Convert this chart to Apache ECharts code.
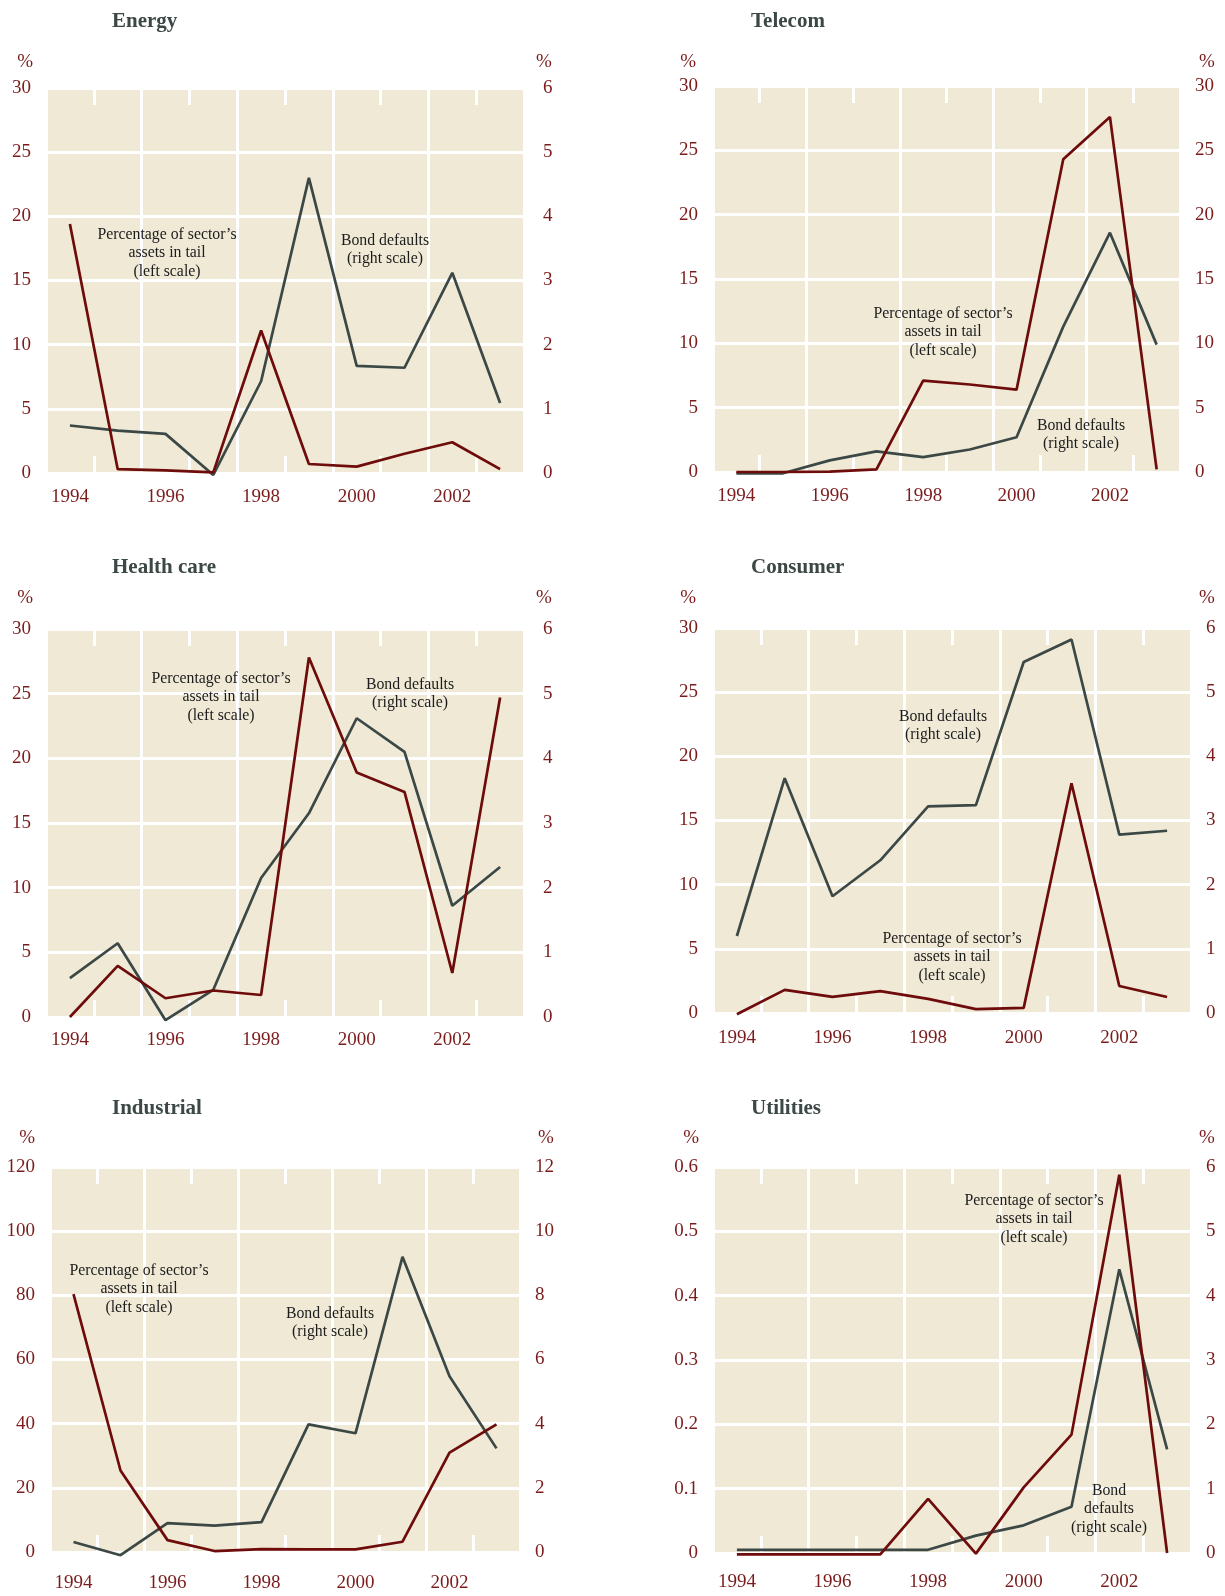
<!DOCTYPE html>
<html>
<head>
<meta charset="utf-8">
<script src="https://cdn.jsdelivr.net/npm/echarts@6/dist/echarts.min.js"></script>
<style>
  html, body { margin: 0; padding: 0; background: #fff; }
  #main { width: 1225px; height: 1596px; }
</style>
</head>
<body>
<div id="main"></div>
<script>
// years on every x axis
var years = ['1994', '1995', '1996', '1997', '1998', '1999', '2000', '2001', '2002', '2003'];

// percentage of sector's assets in tail (left scale)
var energyTail     = [19.4, 0.3, 0.2, 0.05, 11.1, 0.7, 0.5, 1.5, 2.4, 0.3];
var telecomTail    = [0, 0, 0.03, 0.2, 7.1, 6.8, 6.4, 24.3, 27.6, 0.2];
var healthTail     = [0, 3.95, 1.45, 2.05, 1.7, 27.8, 18.9, 17.4, 3.4, 24.7];
var consumerTail   = [-0.1, 1.8, 1.25, 1.7, 1.1, 0.3, 0.4, 17.9, 2.1, 1.25];
var industrialTail = [80.4, 25.4, 3.7, 0.3, 0.9, 0.8, 0.8, 3.2, 31, 39.8];
var utilitiesTail  = [-0.002, -0.002, -0.002, -0.002, 0.084, -0.001, 0.102, 0.184, 0.588, 0];

// bond defaults (right scale)
var energyDefaults     = [0.74, 0.66, 0.61, -0.03, 1.43, 4.6, 1.67, 1.64, 3.12, 1.09];
var telecomDefaults    = [-0.1, -0.1, 0.9, 1.6, 1.15, 1.75, 2.7, 11.3, 18.6, 9.9];
var healthDefaults     = [0.6, 1.14, -0.05, 0.42, 2.15, 3.15, 4.62, 4.1, 1.72, 2.32];
var consumerDefaults   = [1.2, 3.66, 1.82, 2.38, 3.22, 3.24, 5.47, 5.82, 2.78, 2.84];
var industrialDefaults = [0.31, -0.1, 0.9, 0.82, 0.93, 3.98, 3.7, 9.2, 5.48, 3.23];
var utilitiesDefaults  = [0.05, 0.05, 0.05, 0.05, 0.05, 0.27, 0.43, 0.72, 4.41, 1.61];

// tick labels of the axes
var ticks30  = [0, 5, 10, 15, 20, 25, 30];
var ticks6   = [0, 1, 2, 3, 4, 5, 6];
var ticks120 = [0, 20, 40, 60, 80, 100, 120];
var ticks12  = [0, 2, 4, 6, 8, 10, 12];
var ticks06  = [0, 0.1, 0.2, 0.3, 0.4, 0.5, 0.6];

var titles = ['Energy', 'Telecom', 'Health care', 'Consumer', 'Industrial', 'Utilities'];

var RED = '#6e0b0b';
var LABEL_RED = '#7b1c1c';
var GREY = '#3c4846';
var BG = '#efe9d6';
var FONT = '"Liberation Serif", "DejaVu Serif", serif';

var panels = [
  { title: titles[0], tail: energyTail, def: energyDefaults, lt: ticks30, rt: ticks6,
    grid: { left: 46, top: 88, width: 478, height: 385 }, titleX: 107, titleY: 6,
    pctGap: 26, pctL: 13, pctR: 12, xMargin: 15, rMargin: 19,
    notes: [{ x: 167, y: 253, t: "Percentage of sector\u2019s\nassets in tail\n(left scale)" },
            { x: 385, y: 250, t: "Bond defaults\n(right scale)" }] },
  { title: titles[1], tail: telecomTail, def: telecomDefaults, lt: ticks30, rt: ticks30,
    grid: { left: 713, top: 86, width: 467, height: 386 }, titleX: 746, titleY: 6,
    pctGap: 24, pctL: 17, pctR: 19, xMargin: 15, rMargin: 15,
    notes: [{ x: 943, y: 332, t: "Percentage of sector\u2019s\nassets in tail\n(left scale)" },
            { x: 1081, y: 435, t: "Bond defaults\n(right scale)" }] },
  { title: titles[2], tail: healthTail, def: healthDefaults, lt: ticks30, rt: ticks6,
    grid: { left: 46, top: 629, width: 478, height: 388 }, titleX: 107, titleY: 552,
    pctGap: 31, pctL: 13, pctR: 12, xMargin: 14, rMargin: 19,
    notes: [{ x: 221, y: 697, t: "Percentage of sector\u2019s\nassets in tail\n(left scale)" },
            { x: 410, y: 694, t: "Bond defaults\n(right scale)" }] },
  { title: titles[3], tail: consumerTail, def: consumerDefaults, lt: ticks30, rt: ticks6,
    grid: { left: 713, top: 628, width: 478, height: 385 }, titleX: 746, titleY: 552,
    pctGap: 30, pctL: 17, pctR: 8, xMargin: 16, rMargin: 15,
    notes: [{ x: 943, y: 726, t: "Bond defaults\n(right scale)" },
            { x: 952, y: 957, t: "Percentage of sector\u2019s\nassets in tail\n(left scale)" }] },
  { title: titles[4], tail: industrialTail, def: industrialDefaults, lt: ticks120, rt: ticks12,
    grid: { left: 50, top: 1167, width: 470, height: 385 }, titleX: 107, titleY: 1093,
    pctGap: 29, pctL: 15, pctR: 18, xMargin: 22, rMargin: 15,
    notes: [{ x: 139, y: 1289, t: "Percentage of sector\u2019s\nassets in tail\n(left scale)" },
            { x: 330, y: 1323, t: "Bond defaults\n(right scale)" }] },
  { title: titles[5], tail: utilitiesTail, def: utilitiesDefaults, lt: ticks06, rt: ticks6,
    grid: { left: 713, top: 1167, width: 478, height: 386 }, titleX: 746, titleY: 1093,
    pctGap: 29, pctL: 14, pctR: 8, xMargin: 20, rMargin: 15,
    notes: [{ x: 1034, y: 1219, t: "Percentage of sector\u2019s\nassets in tail\n(left scale)" },
            { x: 1109, y: 1509, t: "Bond\ndefaults\n(right scale)" }] }
];

var grids = [], xAxes = [], yAxes = [], series = [], titleList = [], graphics = [];

panels.forEach(function (p, i) {
  grids.push(p.grid);
  titleList.push({
    text: p.title, left: p.titleX, top: p.titleY,
    textStyle: { fontFamily: FONT, fontSize: 21, fontWeight: 'bold', color: GREY }
  });
  var tickStyle = { show: true, inside: true, length: 17, interval: 0,
                    lineStyle: { color: '#fff', width: 3 } };
  xAxes.push({
    type: 'category', gridIndex: i, data: years, boundaryGap: true, position: 'bottom',
    axisLine: { show: false, onZero: false },
    axisTick: tickStyle,
    axisLabel: { interval: 1, color: LABEL_RED, fontFamily: FONT, fontSize: 19, margin: p.xMargin },
    splitLine: { show: true, interval: 1, lineStyle: { color: '#fff', width: 3 } },
    splitArea: { show: false }
  });
  xAxes.push({
    type: 'category', gridIndex: i, data: years, boundaryGap: true, position: 'top',
    axisLine: { show: false, onZero: false }, axisTick: tickStyle,
    axisLabel: { show: false }, splitLine: { show: false }
  });
  var fmt = function (v) {
    if (p.lt === ticks06) return v === 0 ? '0' : v.toFixed(1);
    return String(v);
  };
  yAxes.push({
    type: 'value', gridIndex: i, position: 'left',
    min: p.lt[0], max: p.lt[p.lt.length - 1], interval: p.lt[1] - p.lt[0],
    name: '%', nameLocation: 'end', nameGap: p.pctGap,
    nameTextStyle: { color: LABEL_RED, fontFamily: FONT, fontSize: 19, align: 'right',
                     verticalAlign: 'middle', padding: [0, p.pctL, 0, 0] },
    axisLine: { show: false }, axisTick: { show: false },
    axisLabel: { color: LABEL_RED, fontFamily: FONT, fontSize: 19, margin: 15, formatter: fmt },
    splitLine: { show: true, lineStyle: { color: '#fff', width: 3 } }
  });
  yAxes.push({
    type: 'value', gridIndex: i, position: 'right',
    min: p.rt[0], max: p.rt[p.rt.length - 1], interval: p.rt[1] - p.rt[0],
    name: '%', nameLocation: 'end', nameGap: p.pctGap,
    nameTextStyle: { color: LABEL_RED, fontFamily: FONT, fontSize: 19, align: 'left',
                     verticalAlign: 'middle', padding: [0, 0, 0, p.pctR] },
    axisLine: { show: false }, axisTick: { show: false },
    axisLabel: { color: LABEL_RED, fontFamily: FONT, fontSize: 19, margin: p.rMargin },
    splitLine: { show: false }
  });
  series.push({
    type: 'line', xAxisIndex: 2 * i, yAxisIndex: 2 * i + 1, data: p.def,
    symbol: 'none', clip: false, lineStyle: { color: GREY, width: 2.7 }, z: 3
  });
  series.push({
    type: 'line', xAxisIndex: 2 * i, yAxisIndex: 2 * i, data: p.tail,
    symbol: 'none', clip: false, lineStyle: { color: RED, width: 2.7 }, z: 4
  });
  p.notes.forEach(function (n) {
    graphics.push({
      type: 'text', x: n.x, y: n.y, z: 10,
      style: { text: n.t, textAlign: 'center', textVerticalAlign: 'middle',
               font: '15.8px ' + FONT, fill: '#1c1c1c', lineHeight: 18.5 }
    });
  });
});

var chart = echarts.init(document.getElementById('main'));
chart.setOption({
  animation: false,
  backgroundColor: '#fff',
  title: titleList,
  grid: grids.map(function (g) {
    return Object.assign({ show: true, backgroundColor: BG, borderWidth: 0 }, g);
  }),
  xAxis: xAxes,
  yAxis: yAxes,
  series: series,
  graphic: graphics
});
</script>
</body>
</html>
